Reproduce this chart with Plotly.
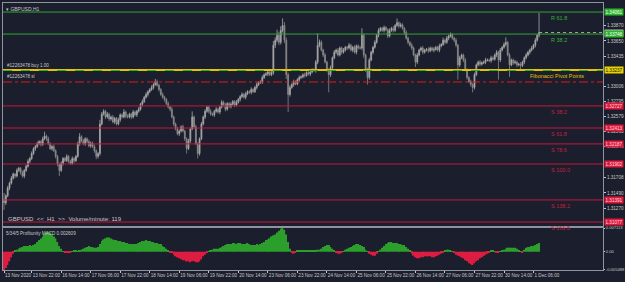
import plotly.graph_objects as go

# ---------------- data ----------------
first_open = 1.3140
close = [
    1.3135, 1.3145, 1.3156, 1.3163, 1.3170, 1.3176, 1.3173, 1.3181, 1.3184, 1.3178,
    1.3173, 1.3181, 1.3187, 1.3194, 1.3198, 1.3205, 1.3212, 1.3215, 1.3219, 1.3222,
    1.3218, 1.3226, 1.3230, 1.3226, 1.3219, 1.3212, 1.3215, 1.3209, 1.3201, 1.3190,
    1.3181, 1.3191, 1.3198, 1.3195, 1.3201, 1.3194, 1.3191, 1.3198, 1.3195, 1.3201,
    1.3219, 1.3229, 1.3223, 1.3219, 1.3226, 1.3222, 1.3216, 1.3220, 1.3215, 1.3209,
    1.3201, 1.3205, 1.3247, 1.3261, 1.3265, 1.3257, 1.3261, 1.3254, 1.3257, 1.3250,
    1.3255, 1.3247, 1.3253, 1.3260, 1.3257, 1.3264, 1.3258, 1.3257, 1.3261, 1.3257,
    1.3264, 1.3260, 1.3265, 1.3268, 1.3275, 1.3279, 1.3285, 1.3289, 1.3293, 1.3296,
    1.3299, 1.3303, 1.3307, 1.3302, 1.3296, 1.3289, 1.3285, 1.3282, 1.3276, 1.3271,
    1.3268, 1.3257, 1.3247, 1.3240, 1.3233, 1.3237, 1.3243, 1.3237, 1.3226, 1.3212,
    1.3223, 1.3240, 1.3257, 1.3243, 1.3219, 1.3205, 1.3226, 1.3247, 1.3257, 1.3265,
    1.3271, 1.3265, 1.3261, 1.3260, 1.3265, 1.3268, 1.3264, 1.3271, 1.3278, 1.3274,
    1.3268, 1.3276, 1.3272, 1.3275, 1.3279, 1.3274, 1.3278, 1.3282, 1.3286, 1.3289,
    1.3285, 1.3290, 1.3293, 1.3292, 1.3296, 1.3293, 1.3299, 1.3303, 1.3306, 1.3307,
    1.3313, 1.3317, 1.3318, 1.3321, 1.3317, 1.3320, 1.3359, 1.3366, 1.3373, 1.3363,
    1.3380, 1.3387, 1.3366, 1.3317, 1.3289, 1.3299, 1.3303, 1.3307, 1.3304, 1.3310,
    1.3313, 1.3314, 1.3317, 1.3316, 1.3320, 1.3318, 1.3321, 1.3324, 1.3323, 1.3335,
    1.3359, 1.3363, 1.3352, 1.3345, 1.3335, 1.3324, 1.3317, 1.3327, 1.3341, 1.3349,
    1.3352, 1.3345, 1.3355, 1.3349, 1.3352, 1.3356, 1.3355, 1.3359, 1.3352, 1.3356,
    1.3349, 1.3358, 1.3355, 1.3355, 1.3373, 1.3345, 1.3324, 1.3313, 1.3338, 1.3349,
    1.3356, 1.3363, 1.3373, 1.3380, 1.3383, 1.3380, 1.3384, 1.3381, 1.3372, 1.3380,
    1.3383, 1.3380, 1.3387, 1.3391, 1.3386, 1.3388, 1.3383, 1.3377, 1.3369, 1.3363,
    1.3359, 1.3355, 1.3345, 1.3335, 1.3345, 1.3352, 1.3355, 1.3349, 1.3352, 1.3353,
    1.3351, 1.3355, 1.3352, 1.3353, 1.3356, 1.3352, 1.3358, 1.3360, 1.3366, 1.3363,
    1.3369, 1.3372, 1.3374, 1.3369, 1.3366, 1.3359, 1.3331, 1.3341, 1.3345, 1.3338,
    1.3324, 1.3313, 1.3307, 1.3303, 1.3299, 1.3317, 1.3331, 1.3335, 1.3332, 1.3334,
    1.3335, 1.3338, 1.3338, 1.3337, 1.3341, 1.3339, 1.3345, 1.3349, 1.3338, 1.3352,
    1.3356, 1.3360, 1.3363, 1.3345, 1.3331, 1.3338, 1.3334, 1.3335, 1.3331, 1.3332,
    1.3330, 1.3335, 1.3341, 1.3345, 1.3349, 1.3352, 1.3355, 1.3359, 1.3366, 1.3373,
    1.3377,
]
# upper / lower wick length of each bar, in pips
wick_hi = [
    9, 2, 3, 2, 3, 2, 1, 3, 2, 2,
    3, 2, 2, 3, 2, 3, 2, 2, 3, 2,
    2, 3, 6, 2, 3, 2, 2, 3, 2, 2,
    2, 3, 2, 2, 3, 2, 2, 3, 2, 2,
    3, 5, 2, 3, 2, 2, 3, 2, 2, 3,
    2, 2, 6, 3, 3, 2, 3, 2, 2, 3,
    2, 2, 3, 2, 2, 4, 2, 3, 2, 2,
    3, 2, 2, 3, 2, 3, 2, 3, 2, 2,
    3, 2, 4, 3, 2, 2, 3, 2, 2, 3,
    2, 3, 2, 2, 3, 2, 2, 3, 2, 2,
    3, 2, 8, 2, 3, 2, 2, 3, 2, 3,
    2, 2, 3, 2, 2, 3, 2, 2, 3, 2,
    3, 2, 2, 3, 2, 2, 3, 2, 2, 3,
    2, 3, 2, 2, 3, 2, 2, 3, 2, 2,
    3, 2, 3, 2, 2, 3, 6, 4, 8, 5,
    6, 10, 5, 4, 3, 3, 2, 3, 2, 2,
    3, 2, 2, 3, 2, 2, 3, 2, 2, 3,
    17, 4, 3, 2, 3, 2, 2, 3, 2, 3,
    2, 3, 2, 2, 3, 2, 2, 3, 2, 2,
    3, 2, 2, 3, 10, 3, 2, 3, 3, 2,
    2, 3, 2, 3, 2, 2, 3, 2, 2, 3,
    2, 3, 2, 6, 2, 3, 2, 2, 3, 2,
    2, 3, 2, 2, 3, 2, 2, 3, 2, 2,
    3, 2, 2, 3, 2, 2, 3, 2, 4, 2,
    3, 2, 3, 2, 2, 3, 2, 3, 2, 2,
    3, 2, 2, 3, 2, 3, 2, 2, 3, 2,
    2, 3, 2, 2, 3, 2, 2, 3, 2, 3,
    2, 3, 7, 2, 3, 2, 2, 3, 2, 2,
    3, 2, 2, 3, 2, 2, 3, 2, 3, 2,
    28,
]
wick_lo = [
    10, 3, 2, 3, 2, 2, 3, 2, 2, 3,
    2, 3, 2, 2, 3, 2, 2, 3, 2, 2,
    3, 2, 2, 3, 2, 2, 3, 2, 3, 3,
    8, 2, 3, 2, 2, 3, 2, 2, 3, 2,
    2, 3, 2, 2, 3, 2, 2, 3, 2, 3,
    4, 3, 3, 2, 2, 3, 2, 3, 2, 2,
    3, 2, 2, 3, 2, 2, 3, 2, 2, 3,
    2, 2, 3, 2, 2, 3, 2, 2, 3, 2,
    2, 3, 2, 2, 3, 2, 2, 3, 2, 2,
    3, 2, 3, 2, 2, 3, 2, 2, 3, 7,
    2, 3, 2, 3, 2, 7, 3, 2, 2, 3,
    2, 3, 2, 2, 3, 2, 2, 3, 2, 2,
    3, 2, 2, 3, 2, 3, 2, 2, 3, 2,
    2, 3, 2, 2, 3, 2, 2, 3, 2, 2,
    3, 2, 2, 3, 2, 2, 3, 4, 3, 4,
    3, 3, 4, 6, 25, 3, 2, 3, 2, 2,
    3, 2, 2, 3, 2, 2, 3, 2, 2, 3,
    3, 3, 2, 3, 2, 3, 25, 3, 2, 2,
    3, 2, 2, 3, 2, 2, 3, 2, 2, 3,
    2, 3, 2, 2, 3, 4, 3, 10, 3, 2,
    3, 2, 2, 3, 2, 2, 3, 2, 3, 2,
    2, 3, 2, 2, 3, 2, 2, 3, 2, 3,
    2, 3, 2, 7, 3, 2, 2, 3, 2, 2,
    3, 2, 2, 3, 2, 2, 3, 2, 2, 3,
    2, 3, 2, 2, 3, 3, 21, 3, 2, 3,
    2, 3, 2, 3, 7, 3, 2, 2, 3, 2,
    2, 3, 2, 2, 3, 2, 2, 3, 28, 3,
    2, 2, 3, 2, 17, 2, 3, 2, 3, 2,
    5, 2, 3, 2, 2, 3, 2, 2, 3, 2,
    3,
]
macd = [
    -0.0055, -0.0049, -0.0040, -0.0029, -0.0017, -0.0006, 0.0003, 0.0006, 0.0009, 0.0012,
    0.0014, 0.0017, 0.0017, 0.0017, 0.0020, 0.0017, 0.0020, 0.0023, 0.0029, 0.0035,
    0.0040, 0.0046, 0.0052, 0.0058, 0.0060, 0.0058, 0.0052, 0.0046, 0.0040, 0.0029,
    0.0017, 0.0009, 0.0001, -0.0003, -0.0003, -0.0002, -0.0002, 0.0001, 0.0003, 0.0003,
    0.0001, 0.0003, 0.0006, 0.0009, 0.0012, 0.0014, 0.0017, 0.0014, 0.0014, 0.0012,
    0.0012, 0.0014, 0.0023, 0.0032, 0.0037, 0.0040, 0.0043, 0.0043, 0.0040, 0.0037,
    0.0035, 0.0035, 0.0032, 0.0032, 0.0029, 0.0029, 0.0026, 0.0026, 0.0023, 0.0023,
    0.0023, 0.0023, 0.0023, 0.0026, 0.0029, 0.0032, 0.0032, 0.0035, 0.0032, 0.0032,
    0.0029, 0.0029, 0.0026, 0.0026, 0.0023, 0.0023, 0.0017, 0.0014, 0.0009, 0.0003,
    -0.0001, -0.0003, -0.0009, -0.0014, -0.0017, -0.0020, -0.0023, -0.0026, -0.0026, -0.0029,
    -0.0029, -0.0032, -0.0029, -0.0029, -0.0032, -0.0032, -0.0029, -0.0023, -0.0014, -0.0009,
    -0.0003, 0.0001, 0.0003, 0.0006, 0.0009, 0.0009, 0.0009, 0.0012, 0.0014, 0.0017,
    0.0020, 0.0023, 0.0023, 0.0023, 0.0026, 0.0026, 0.0023, 0.0026, 0.0026, 0.0023,
    0.0023, 0.0023, 0.0026, 0.0023, 0.0020, 0.0020, 0.0020, 0.0023, 0.0020, 0.0023,
    0.0026, 0.0029, 0.0035, 0.0037, 0.0040, 0.0046, 0.0049, 0.0052, 0.0058, 0.0063,
    0.0069, 0.0071, 0.0066, 0.0052, 0.0029, 0.0009, -0.0003, -0.0006, -0.0003, 0.0003,
    0.0003, 0.0003, 0.0003, 0.0003, 0.0004, 0.0004, 0.0004, 0.0004, 0.0005, 0.0005,
    0.0006, 0.0006, 0.0009, 0.0014, 0.0017, 0.0020, 0.0020, 0.0014, 0.0009, 0.0003,
    -0.0003, -0.0006, -0.0006, -0.0003, 0.0001, 0.0006, 0.0009, 0.0012, 0.0014, 0.0017,
    0.0020, 0.0023, 0.0023, 0.0020, 0.0017, 0.0014, 0.0006, 0.0001, -0.0006, -0.0009,
    -0.0012, -0.0012, -0.0006, 0.0001, 0.0006, 0.0012, 0.0017, 0.0023, 0.0026, 0.0029,
    0.0029, 0.0026, 0.0026, 0.0026, 0.0023, 0.0023, 0.0020, 0.0020, 0.0014, 0.0009,
    0.0003, -0.0006, -0.0012, -0.0017, -0.0020, -0.0020, -0.0017, -0.0017, -0.0014, -0.0014,
    -0.0014, -0.0014, -0.0017, -0.0017, -0.0014, -0.0012, -0.0009, -0.0006, -0.0003, 0.0003,
    0.0006, 0.0006, 0.0003, 0.0001, -0.0003, -0.0009, -0.0012, -0.0014, -0.0017, -0.0020,
    -0.0026, -0.0029, -0.0035, -0.0037, -0.0040, -0.0035, -0.0029, -0.0026, -0.0020, -0.0017,
    -0.0012, -0.0009, -0.0006, -0.0003, 0.0003, 0.0003, 0.0001, -0.0003, -0.0003, 0.0001,
    0.0003, 0.0006, 0.0009, 0.0012, 0.0012, 0.0012, 0.0012, 0.0012, 0.0009, 0.0003,
    0.0001, -0.0003, 0.0006, 0.0012, 0.0014, 0.0014, 0.0017, 0.0017, 0.0020, 0.0023,
    0.0026,
]

time_tick_bars = [0, 15, 31, 47, 63, 79, 95, 111, 127, 143, 159, 175, 191, 207, 223, 239, 255, 271, 287]
time_tick_labels = ["13 Nov 2020", "13 Nov 22:00", "16 Nov 14:00", "17 Nov 06:00", "17 Nov 22:00",
                    "18 Nov 14:00", "19 Nov 06:00", "19 Nov 22:00", "20 Nov 14:00", "23 Nov 06:00",
                    "23 Nov 22:00", "24 Nov 14:00", "25 Nov 06:00", "25 Nov 22:00", "26 Nov 14:00",
                    "27 Nov 06:00", "27 Nov 22:00", "30 Nov 14:00", "1 Dec 06:00"]
price_ticks = [1.33870, 1.33650, 1.33435, 1.33006, 1.32795, 1.32579, 1.32363, 1.32146, 1.31708, 1.31490, 1.31270]

fib_names = ["R 61.8", "R 38.2", "S 38.2", "S 61.8", "S 78.6", "S 100.0", "S 138.2", "S 161.8"]
fib_levels = [1.34061, 1.33748, 1.32727, 1.32413, 1.32187, 1.31902, 1.31391, 1.31077]
pivot_level = 1.33237
order_price = 1.33230
sl_price = 1.33067
macd_max, macd_min, macd_last = 0.007113, -0.005488, 0.002609

# ---------------- derived ----------------
n = len(close)
bars = list(range(n))
opens = [first_open] + close[:-1]
highs = [max(o, c) + w * 1e-4 for o, c, w in zip(opens, close, wick_hi)]
lows = [min(o, c) - w * 1e-4 for o, c, w in zip(opens, close, wick_lo)]

BG = "#1b1e2d"
AX = "#8f939e"
TXT = "#c8c8c8"
GREEN = "#2fa82f"
RED = "#c8173a"
YEL = "#e3c400"
FONT = "Liberation Sans"

xr = [-0.54, 324.66]
yr = [1.310205, 1.341894]

fig = go.Figure()
fig.add_trace(go.Candlestick(
    x=bars, open=opens, high=highs, low=lows, close=close,
    xaxis="x", yaxis="y", showlegend=False, hoverinfo="skip", whiskerwidth=0,
    increasing=dict(line=dict(color="#a9a9a9", width=0.8), fillcolor="#a9a9a9"),
    decreasing=dict(line=dict(color="#8a8a8a", width=0.8), fillcolor="#8a8a8a"),
))
fig.add_trace(go.Bar(
    x=bars, y=macd, xaxis="x2", yaxis="y2", showlegend=False, hoverinfo="skip",
    marker=dict(color=["#2c9e2c" if v >= 0 else "#dc1c40" for v in macd], line=dict(width=0)),
))

shapes = []
for name, lv in zip(fib_names, fib_levels):
    col = GREEN if name.startswith("R") else RED
    shapes.append(dict(type="line", xref="paper", x0=0, x1=1, yref="y", y0=lv, y1=lv,
                       line=dict(color=col, width=1)))
shapes.append(dict(type="line", xref="paper", x0=0, x1=1, yref="y", y0=pivot_level, y1=pivot_level,
                   line=dict(color=YEL, width=2)))
shapes.append(dict(type="line", xref="paper", x0=0, x1=1, yref="y", y0=order_price, y1=order_price,
                   line=dict(color="#3aa82a", width=1, dash="dash")))
shapes.append(dict(type="line", xref="paper", x0=0, x1=1, yref="y", y0=sl_price, y1=sl_price,
                   line=dict(color="#e01b1b", width=1, dash="dashdot")))
shapes.append(dict(type="line", xref="x", x0=bars[-1], x1=xr[1], yref="y", y0=close[-1], y1=close[-1],
                   line=dict(color="#a0a0a0", width=1, dash="dot")))

ann = []
small = dict(family=FONT, size=4.6, color=TXT)
ann.append(dict(text="\u25be GBPUSD,H1", xref="paper", x=0, xshift=1, yref="y domain", y=1, yshift=-1,
                xanchor="left", yanchor="top", showarrow=False, font=dict(family=FONT, size=5, color=TXT)))
ann.append(dict(text="#12263478 buy 1.00", xref="paper", x=0, xshift=2, yref="y", y=order_price, yshift=1,
                xanchor="left", yanchor="bottom", showarrow=False, font=small))
ann.append(dict(text="#12263478 sl", xref="paper", x=0, xshift=2, yref="y", y=sl_price, yshift=1,
                xanchor="left", yanchor="bottom", showarrow=False, font=small))
ann.append(dict(text="GBPUSD\u00a0\u00a0<<\u00a0\u00a0H1\u00a0\u00a0>>\u00a0\u00a0Volume/minute:\u00a0119",
                xref="paper", x=0, xshift=3, yref="y domain", y=0.031,
                xanchor="left", yanchor="middle", showarrow=False, font=dict(family=FONT, size=6, color=TXT)))
ann.append(dict(text="5/34/5 Profitunity MACD %.6f" % macd_last, xref="paper", x=0, xshift=1,
                yref="y2 domain", y=1, yshift=-1, xanchor="left", yanchor="top", showarrow=False, font=small))
for name, lv in zip(fib_names, fib_levels):
    col = "#36b236" if name.startswith("R") else "#c4203e"
    ann.append(dict(text=name, xref="x", x=295.5, yref="y", y=lv, yshift=-1, xanchor="left", yanchor="top",
                    showarrow=False, font=dict(family=FONT, size=5.5, color=col)))
ann.append(dict(text="Fibonacci Pivot Points", xref="x", x=284, yref="y", y=pivot_level, yshift=-1,
                xanchor="left", yanchor="top", showarrow=False, font=dict(family=FONT, size=5.5, color=YEL)))
# price boxes on the right scale
box = dict(xref="paper", x=1, xshift=1, xanchor="left", yanchor="middle", showarrow=False, borderpad=0.5)
bfont = 4.6
ann.append(dict(text="%.5f" % close[-1], yref="y", y=close[-1], bgcolor="#b4b4b4",
                font=dict(family=FONT, size=bfont, color="#111111"), **box))
for name, lv in zip(fib_names, fib_levels):
    if name.startswith("R"):
        ann.append(dict(text="%.5f" % lv, yref="y", y=lv, bgcolor="#2cb52c",
                        font=dict(family=FONT, size=bfont, color="#ffffff"), **box))
    else:
        ann.append(dict(text="%.5f" % lv, yref="y", y=lv, bgcolor="#e0183c",
                        font=dict(family=FONT, size=bfont, color="#ffd6dd"), **box))
ann.append(dict(text="%.5f" % pivot_level, yref="y", y=pivot_level, bgcolor="#e8d200",
                font=dict(family=FONT, size=bfont, color="#111111"), **box))

axis_common = dict(showgrid=False, zeroline=False, showline=True, mirror=True, linecolor=AX, linewidth=1,
                   automargin=False)
fig.update_layout(
    width=625, height=282, margin=dict(l=3, r=22, t=3, b=12, autoexpand=False),
    paper_bgcolor=BG, plot_bgcolor=BG, bargap=0.25, showlegend=False,
    xaxis=dict(domain=[0, 1], range=xr, anchor="y", showticklabels=False, ticks="",
               rangeslider=dict(visible=False), **axis_common),
    yaxis=dict(domain=[0.1648, 1], range=yr, side="right", anchor="x",
               tickvals=price_ticks, ticktext=["%.5f" % v for v in price_ticks],
               ticks="outside", ticklen=2, tickcolor=TXT,
               tickfont=dict(family=FONT, size=4.6, color=TXT), **axis_common),
    xaxis2=dict(domain=[0, 1], range=xr, anchor="y2", tickvals=time_tick_bars, ticktext=time_tick_labels,
                tickangle=0, ticklabelposition="outside right", ticks="outside", ticklen=2, tickcolor=TXT,
                tickfont=dict(family=FONT, size=4.6, color=TXT), **axis_common),
    yaxis2=dict(domain=[0, 0.1573], range=[-0.0055, 0.00712], side="right", anchor="x2",
                tickvals=[macd_max, 0, macd_min], ticktext=["%.6f" % macd_max, "0.00", "%.6f" % macd_min],
                ticks="outside", ticklen=1, tickcolor=TXT,
                tickfont=dict(family=FONT, size=4.1, color=TXT), **axis_common),
    shapes=shapes, annotations=ann,
)
fig.write_html("out.html", config={"displayModeBar": False})
